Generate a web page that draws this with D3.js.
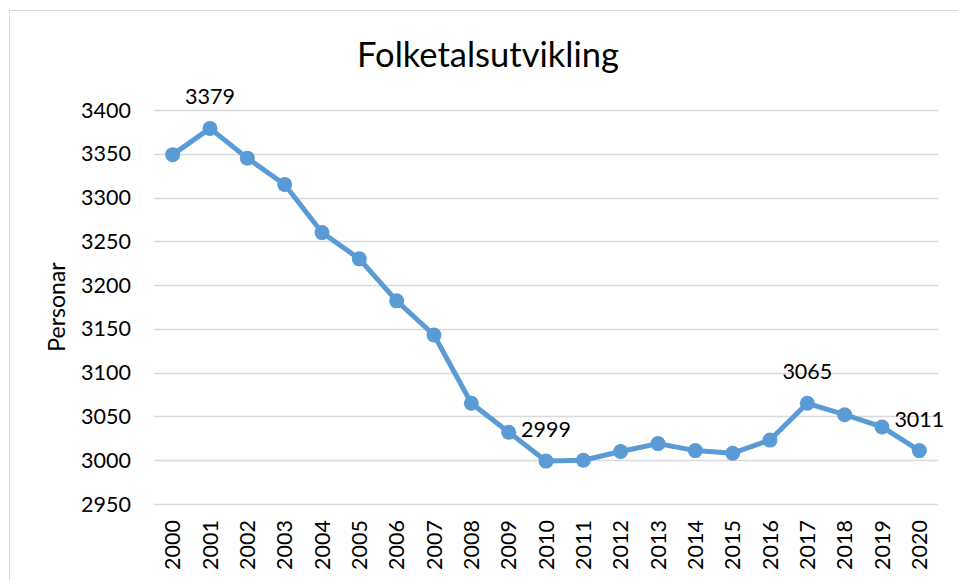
<!DOCTYPE html>
<html>
<head>
<meta charset="utf-8">
<script src="https://cdn.jsdelivr.net/npm/d3@7"></script>
<style>
    body { margin: 0; background: #fff; }
    text { font-family: Lato, "Open Sans", sans-serif; fill: #000; }
</style>
</head>
<body>
<div id="chart"></div>
<script>
let years = ["2000","2001","2002","2003","2004","2005","2006","2007","2008","2009","2010",
    "2011","2012","2013","2014","2015","2016","2017","2018","2019","2020"];
let population = [3349, 3379, 3345, 3315, 3260, 3230, 3182, 3143, 3065, 3032, 2999,
    3000, 3010, 3019, 3011, 3008, 3023, 3065, 3052, 3038, 3011];
let labelledYears = ["2001", "2010", "2017", "2020"];
let yTicks = [2950, 3000, 3050, 3100, 3150, 3200, 3250, 3300, 3350, 3400];

let width = 958, height = 580;

let svg = d3.select("#chart")
    .append("svg")
    .attr("width", width)
    .attr("height", height);

// chart border
svg.append("rect")
    .attr("x", 9.5)
    .attr("y", 10.5)
    .attr("width", 980)
    .attr("height", 600)
    .attr("fill", "none")
    .attr("stroke", "#d9d9d9")
    .attr("stroke-width", 1);

let x = d3.scaleBand()
    .domain(years)
    .range([154, 938]);

let y = d3.scaleLinear()
    .domain([2950, 3400])
    .range([504, 110]);

// gridlines
svg.append("g")
    .selectAll("line")
    .data(yTicks)
    .enter()
    .append("line")
    .attr("x1", 154)
    .attr("x2", 938)
    .attr("y1", d => Math.round(y(d)) + 0.5)
    .attr("y2", d => Math.round(y(d)) + 0.5)
    .attr("stroke", "#d9d9d9")
    .attr("stroke-width", 1.5);

// y tick labels
svg.append("g")
    .selectAll("text")
    .data(yTicks)
    .enter()
    .append("text")
    .attr("x", 131)
    .attr("y", d => y(d) + 7.5)
    .attr("text-anchor", "end")
    .attr("font-size", 21.5)
    .text(d => d);

// x tick labels (rotated)
svg.append("g")
    .selectAll("text")
    .data(years)
    .enter()
    .append("text")
    .attr("transform", d => "translate(" + (x(d) + x.bandwidth() / 2 + 7.5) + ",520) rotate(-90)")
    .attr("text-anchor", "end")
    .attr("font-size", 21.5)
    .text(d => d);

// axis title
svg.append("text")
    .attr("transform", "translate(65,307) rotate(-90)")
    .attr("text-anchor", "middle")
    .attr("font-size", 23)
    .text("Personar");

// chart title
svg.append("text")
    .attr("x", 488)
    .attr("y", 67)
    .attr("text-anchor", "middle")
    .attr("font-size", 34.5)
    .text("Folketalsutvikling");

let line = d3.line()
    .x((d, i) => x(years[i]) + x.bandwidth() / 2)
    .y(d => y(d));

svg.append("path")
    .datum(population)
    .attr("d", line)
    .attr("fill", "none")
    .attr("stroke", "#5b9bd5")
    .attr("stroke-width", 5)
    .attr("stroke-linejoin", "round");

svg.append("g")
    .selectAll("circle")
    .data(population)
    .enter()
    .append("circle")
    .attr("cx", (d, i) => x(years[i]) + x.bandwidth() / 2)
    .attr("cy", d => y(d))
    .attr("r", 7.5)
    .attr("fill", "#5b9bd5");

// data labels
svg.append("g")
    .selectAll("text")
    .data(years.filter(yr => labelledYears.includes(yr)))
    .enter()
    .append("text")
    .attr("x", d => x(d) + x.bandwidth() / 2)
    .attr("y", d => y(population[years.indexOf(d)]) - 24)
    .attr("text-anchor", "middle")
    .attr("font-size", 21.5)
    .text(d => population[years.indexOf(d)]);
</script>
</body>
</html>
